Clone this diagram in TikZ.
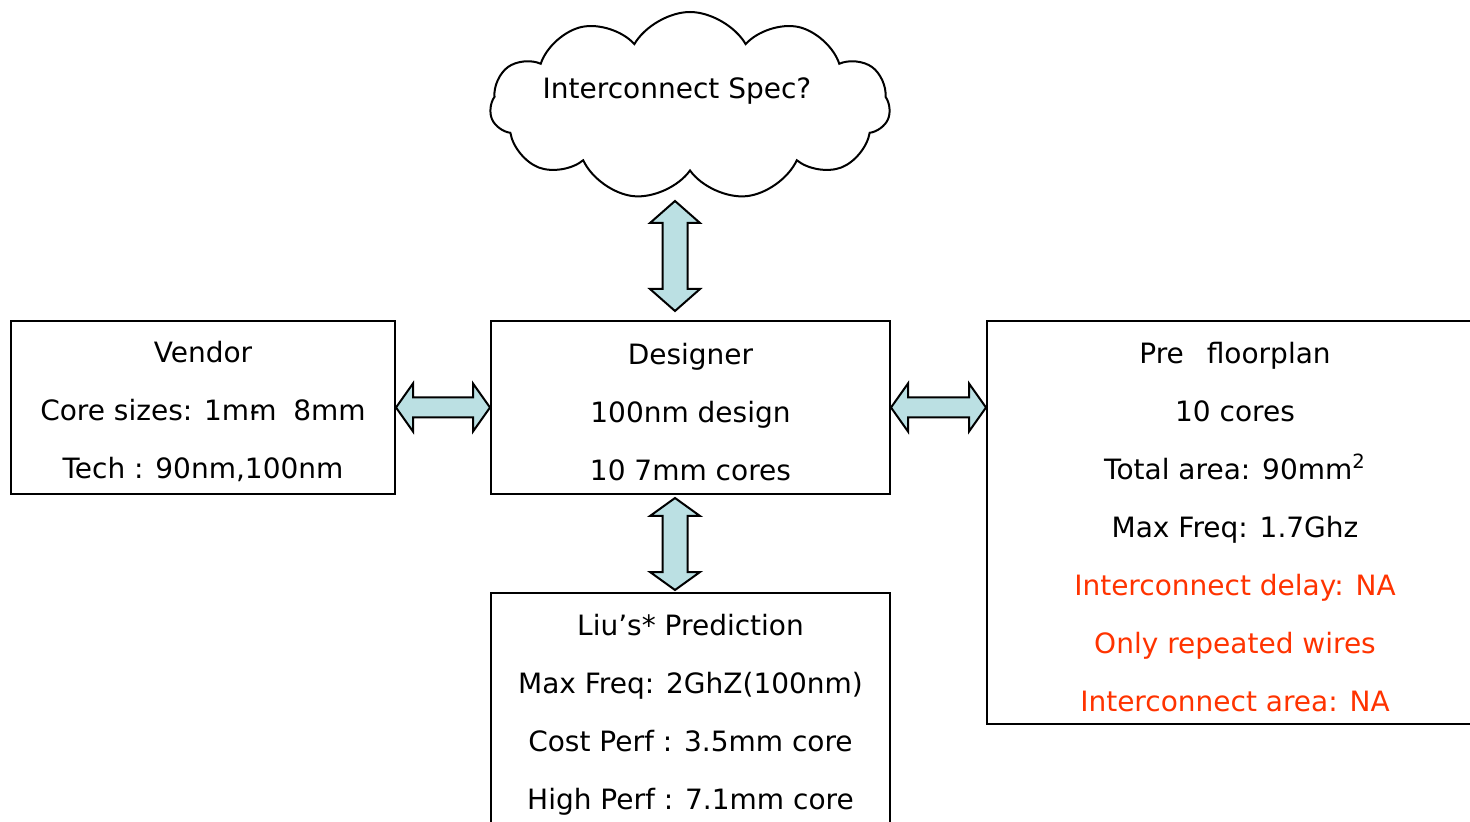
\documentclass[tikz,border=0pt]{standalone}
\usepackage{fontspec}
\setmainfont{DejaVu Sans}
\usetikzlibrary{shapes.symbols,calc}
\definecolor{arrowfill}{RGB}{187,224,227}
\definecolor{warn}{RGB}{255,51,0}
\tikzset{
  boxtext/.style={font=\fontsize{14}{29}\selectfont},
  box/.style={boxtext, draw=black, line width=1pt, rectangle, align=center, inner sep=0pt},
  fatarrow/.style={draw=black, line width=1pt, fill=arrowfill, line join=miter},
}
% extra room above the first line of a box
\newcommand\topgap{\rule{0pt}{15pt}}
% Block double arrow between two points:
% #1 head length, #2 head half-width, #3 shaft half-width, #4 start, #5 end
\newcommand\fatlink[5]{%
  \coordinate (fa1) at ($(#4)!#1!(#5)$);
  \coordinate (fa2) at ($(#5)!#1!(#4)$);
  \draw[fatarrow] (#4)
    -- ($(fa1)!#2!90:(#5)$) -- ($(fa1)!#3!90:(#5)$)
    -- ($(fa2)!#3!-90:(#4)$) -- ($(fa2)!#2!-90:(#4)$)
    -- (#5)
    -- ($(fa2)!#2!90:(#4)$) -- ($(fa2)!#3!90:(#4)$)
    -- ($(fa1)!#3!-90:(#5)$) -- ($(fa1)!#2!-90:(#5)$)
    -- cycle;}

\begin{document}
\begin{tikzpicture}[x=0.5pt,y=-0.5pt]
\useasboundingbox (0,0) rectangle (1470,822);
\clip (0,0) rectangle (1470,822);

% question cloud
\node[cloud, cloud puffs=11, cloud puff arc=120, aspect=2.1, draw, line width=1pt,
      minimum width=200pt, minimum height=94pt] (cloud) at (690,106) {};
\node[boxtext] (spec) at (677,91) {Interconnect Spec?};

% boxes
\node[box, minimum width=192pt, minimum height=86.5pt] (vendor) at (203,407.5)
  {\topgap Vendor\\Core sizes: 1m\rlap{\kern0.02em-}m\hspace{0.6em}8mm\\Tech : 90nm,100nm};
\node[box, minimum width=199.5pt, minimum height=86.5pt] (designer) at (690.5,407.5)
  {\topgap Designer\\100nm design\\10 7mm cores};
\node[box, minimum width=248pt, minimum height=201.5pt] (pre) at (1235,522.5)
  {\topgap Pre\hspace{0.82em}floorplan\\10 cores\\Total area: 90mm\textsuperscript{2}\\Max Freq: 1.7Ghz\\
   \textcolor{warn}{Interconnect delay: NA}\\\textcolor{warn}{Only repeated wires}\\
   \textcolor{warn}{Interconnect area: NA}};
\node[box, minimum width=199.5pt, minimum height=118pt] (liu) at (690.5,711)
  {\rule{0pt}{14pt}Liu’s* Prediction\\Max Freq: 2GhZ(100nm)\\Cost Perf : 3.5mm core\\High Perf : 7.1mm core};

% connector end points
\coordinate (cl-b) at (675,201);
\coordinate (de-t) at ($(designer.north)+(-15.5,-9)$);
\coordinate (de-b) at ($(designer.south)+(-15.5,3)$);
\coordinate (li-t) at ($(liu.north)+(-15.5,-2)$);
\coordinate (pre-w) at (designer.east -| pre.west);

% connectors
\fatlink{11pt}{12.5pt}{6.25pt}{cl-b}{de-t}
\fatlink{9pt}{12.5pt}{6.25pt}{de-b}{li-t}
\fatlink{8.5pt}{12pt}{5pt}{vendor.east}{designer.west}
\fatlink{8.5pt}{12pt}{5pt}{designer.east}{pre-w}
\end{tikzpicture}
\end{document}
